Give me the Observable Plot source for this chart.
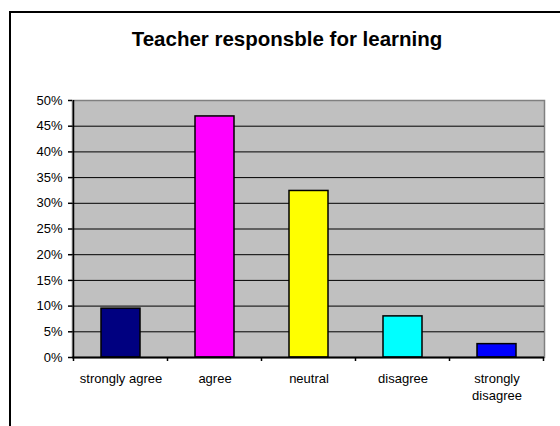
<!DOCTYPE html>
<html>
<head>
<meta charset="utf-8">
<script src="https://cdn.jsdelivr.net/npm/d3@7"></script>
<script src="https://cdn.jsdelivr.net/npm/@observablehq/plot@0.6"></script>
<style>
  html, body { margin: 0; padding: 0; background: #fff; }
  #wrap { position: relative; width: 560px; height: 426px; overflow: hidden; font-family: "Liberation Sans", Arial, sans-serif; }
  #border { position: absolute; left: 9px; top: 11px; width: 600px; height: 500px; border-top: 2px solid #000; border-left: 2px solid #000; }
  #title { position: absolute; left: 0; top: 29px; width: 574px; text-align: center; font-weight: bold; font-size: 20.5px; line-height: 20px; color: #000; white-space: nowrap; }
  #chart { position: absolute; left: 0; top: 0; }
</style>
</head>
<body>
<div id="wrap">
  <div id="border"></div>
  <div id="chart"></div>
  <div id="title">Teacher responsble for learning</div>
</div>
<script>
const categories = ["strongly agree", "agree", "neutral", "disagree", "strongly disagree"];
const xLabels = ["strongly agree", "agree", "neutral", "disagree", "strongly\ndisagree"];
const values = [0.095, 0.469, 0.324, 0.080, 0.026];
const colors = ["#000080", "#FF00FF", "#FFFF00", "#00FFFF", "#0000FF"];
const yTicks = [0, 0.05, 0.10, 0.15, 0.20, 0.25, 0.30, 0.35, 0.40, 0.45, 0.50];

const data = categories.map((c, i) => ({category: c, value: values[i], color: colors[i]}));
const labelOf = new Map(categories.map((c, i) => [c, xLabels[i]]));

// boundary ticks + left axis line drawn with the library's scales
function axisDecor(index, scales, values, dimensions) {
  const x = scales.x, y = scales.y;
  const ns = "http://www.w3.org/2000/svg";
  const g = document.createElementNS(ns, "g");
  const bw = x.bandwidth ? x.bandwidth() : 0;
  const step = x.step ? x.step() : bw;
  const off = (step - bw) / 2;
  const y0 = y(0), y1 = y(0.5);
  const bounds = categories.map(c => x(c) - off);
  bounds.push(x(categories[categories.length - 1]) + bw + off);
  const line = (x1, y1_, x2, y2, w) => {
    const l = document.createElementNS(ns, "line");
    l.setAttribute("x1", x1); l.setAttribute("y1", y1_);
    l.setAttribute("x2", x2); l.setAttribute("y2", y2);
    l.setAttribute("stroke", "#000"); l.setAttribute("stroke-width", w);
    g.appendChild(l);
  };
  bounds.forEach(b => line(b, y0, b, y0 + 4, 1.5));
  line(bounds[0], y1, bounds[0], y0 + 1, 1.5);
  return g;
}

const chart = Plot.plot({
  width: 560,
  height: 426,
  marginLeft: 72,
  marginRight: 16,
  marginTop: 100,
  marginBottom: 69,
  style: { fontFamily: "'Liberation Sans', Arial, sans-serif", fontSize: "13px", background: "transparent", color: "#000" },
  x: { domain: categories, paddingInner: 0.59, paddingOuter: 0.295, label: null },
  y: { domain: [0, 0.5], label: null },
  marks: [
    Plot.frame({ fill: "#C0C0C0", stroke: "#808080", strokeWidth: 1.5 }),
    Plot.ruleY(yTicks.filter(t => t > 0 && t < 0.5), { stroke: "#000", strokeWidth: 1 }),
    Plot.barY(data, { x: "category", y: "value", fill: "color", stroke: "#000", strokeWidth: 1.5 }),
    Plot.ruleY([0], { stroke: "#000", strokeWidth: 2 }),
    axisDecor,
    Plot.axisY({ ticks: yTicks, tickFormat: d3.format(".0%"), tickSize: 4, tickPadding: 6, stroke: "#000", strokeWidth: 1.5, fill: "#000" }),
    Plot.axisX({ tickSize: 0, tickPadding: 13.5, tickFormat: d => labelOf.get(d), fill: "#000", lineHeight: 1.3 })
  ]
});
document.getElementById("chart").appendChild(chart);
</script>
</body>
</html>
